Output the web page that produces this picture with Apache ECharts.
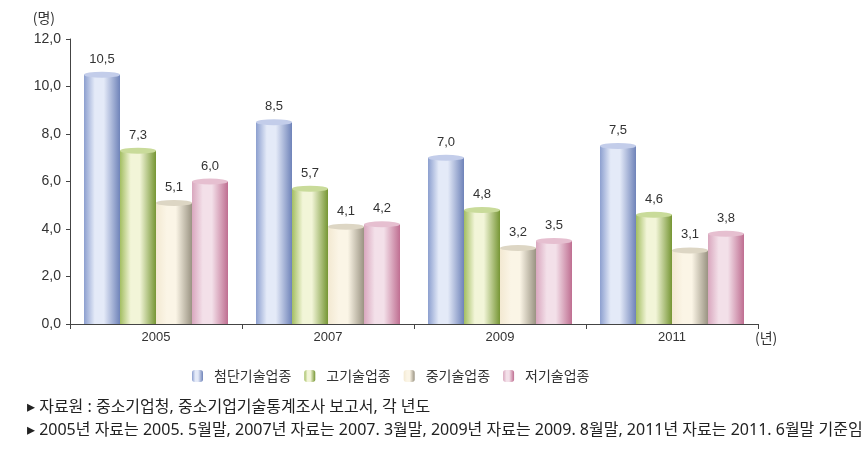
<!DOCTYPE html>
<html><head><meta charset="utf-8">
<script src="https://cdn.jsdelivr.net/npm/echarts@6/dist/echarts.min.js"></script>
<style>html,body{margin:0;padding:0;background:#fff}#c{width:866px;height:460px}</style>
</head><body><div id="c"></div>
<script>
const categories = ['2005', '2007', '2009', '2011'];
const seriesNames = ['첨단기술업종', '고기술업종', '중기술업종', '저기술업종'];
const highTech = [10.5, 8.5, 7.0, 7.5];
const midHighTech = [7.3, 5.7, 4.8, 4.6];
const midLowTech = [5.1, 4.1, 3.2, 3.1];
const lowTech = [6.0, 4.2, 3.5, 3.8];
const yTicks = [0, 2, 4, 6, 8, 10, 12];
const footnotes = [
  '▸ 자료원 : 중소기업청, 중소기업기술통계조사 보고서, 각 년도',
  '▸ 2005년 자료는 2005. 5월말, 2007년 자료는 2007. 3월말, 2009년 자료는 2009. 8월말, 2011년 자료는 2011. 6월말 기준임'
];

const values = [highTech, midHighTech, midLowTech, lowTech];
const palettes = [
  {l:'#8c9fcf', h:'#e4eaf8', r:'#6f83b9', cap:'#c3cdea'},
  {l:'#a3be62', h:'#f2f5d8', r:'#769634', cap:'#c9db9a'},
  {l:'#f3e9d2', h:'#fbf5e6', r:'#9a9382', cap:'#ddd6c4'},
  {l:'#d9a7be', h:'#f3e0e9', r:'#bf6e91', cap:'#e6bfd0'}
];
function grad(p){
  return new echarts.graphic.LinearGradient(0,0,1,0,[
    {offset:0,color:p.l},{offset:0.3,color:p.h},{offset:0.55,color:p.h},{offset:1,color:p.r}]);
}
const fmt = v => Number(v).toFixed(1).replace('.', ',');
const series = [];
values.forEach((arr,i)=>{
  series.push({
    name: seriesNames[i], type:'bar', data: arr, barWidth:36, barGap:'0%', barCategoryGap:'16%',
    itemStyle:{color:grad(palettes[i])},
    label:{show:true, position:'top', distance:9, formatter:p=>fmt(p.value),
      color:'#333', fontSize:13, fontFamily:'Liberation Sans, Arial, sans-serif'}
  });
});
values.forEach((arr,i)=>{
  series.push({
    type:'pictorialBar', data: arr, barWidth:36, barGap:'0%', barCategoryGap:'16%',
    symbol:'circle', symbolSize:[36,6], symbolPosition:'end', symbolOffset:[0,'-50%'],
    itemStyle:{color:palettes[i].cap}, silent:true, z:3, legendHoverLink:false
  });
});
const chart = echarts.init(document.getElementById('c'));
chart.setOption({
  animation:false,
  backgroundColor:'#fff',
  grid:{left:70, right:108, top:39, bottom:136, containLabel:false},
  xAxis:{type:'category', data:categories,
    name:'(년)', nameLocation:'end', nameGap:0,
    nameTextStyle:{align:'left', verticalAlign:'top', padding:[7,0,0,-3], color:'#333', fontSize:14, fontFamily:'Noto Sans CJK KR'},
    axisLine:{lineStyle:{color:'#444', width:1}},
    axisTick:{show:true, length:5, lineStyle:{color:'#444'}},
    axisLabel:{color:'#333', fontSize:13, margin:7, fontFamily:'Liberation Sans, Arial, sans-serif'}
  },
  yAxis:{type:'value', min:yTicks[0], max:yTicks[yTicks.length-1], interval:2,
    name:'(명)', nameLocation:'end', nameGap:14,
    nameTextStyle:{align:'right', padding:[0,15,0,0], color:'#333', fontSize:14, fontFamily:'Noto Sans CJK KR'},
    axisLine:{show:true, lineStyle:{color:'#444', width:1}},
    axisTick:{show:true, length:4, lineStyle:{color:'#444'}},
    splitLine:{show:false},
    axisLabel:{color:'#333', fontSize:14, margin:9, formatter:v=>fmt(v), fontFamily:'Liberation Sans, Arial, sans-serif'}
  },
  legend:{data:seriesNames, top:369, left:192, padding:0, itemWidth:11, itemHeight:12, itemGap:13,
    textStyle:{color:'#333', fontSize:14, fontFamily:'Noto Sans CJK KR', padding:[0,0,0,6]}},
  graphic:[
    {type:'text', left:27, top:399, style:{text:footnotes[0], fill:'#222', font:'16px "Noto Sans", "Noto Sans CJK KR"'}},
    {type:'text', left:27, top:422, style:{text:footnotes[1], fill:'#222', font:'16px "Noto Sans", "Noto Sans CJK KR"'}}
  ],
  series:series
});
</script></body></html>
